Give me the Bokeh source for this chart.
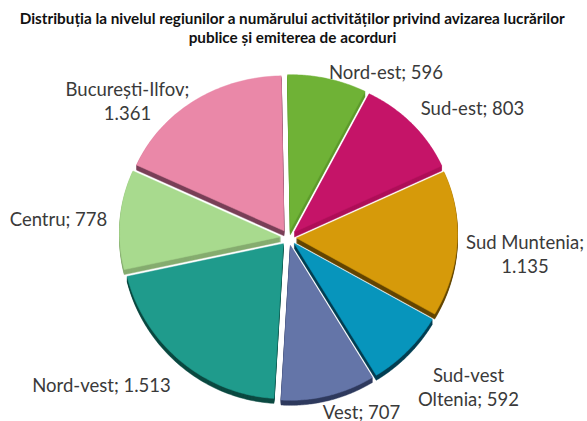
import math
from bokeh.plotting import figure
from bokeh.models import Range1d
from bokeh.core.properties import value
from bokeh.embed import file_html
from bokeh.resources import INLINE

regions = ["Nord-est", "Sud-est", "Sud Muntenia", "Sud-vest Oltenia", "Vest", "Nord-vest", "Centru", "București-Ilfov"]
values = [596, 803, 1135, 592, 707, 1513, 778, 1361]
colors = ["#6FB236", "#C51468", "#D69A0A", "#0795BC", "#6475A8", "#1F9B8C", "#A8DA8E", "#EA88A8"]
sides = ["#5E9A2C", "#AE0F58", "#644600", "#033F52", "#2F3A5E", "#0C4A42", "#86AD70", "#7A4058"]
labels = [["Nord-est; 596"], ["Sud-est; 803"], ["Sud Muntenia;", "1.135"], ["Sud-vest", "Oltenia; 592"],
          ["Vest; 707"], ["Nord-vest; 1.513"], ["Centru; 778"], ["București-Ilfov;", "1.361"]]
label_xy = [(385.5, 71), (472, 107), (524.5, 241), (468, 374), (361, 411), (101, 384), (58, 218), (127, 88)]
title = ["Distribuția la nivelul regiunilor a numărului activităților privind avizarea lucrărilor",
         "publice și emiterea de acorduri"]

CX, CY, RX, RY, EXPLODE, DEPTH, START, EGG = 288, 237, 161, 155, 8, 5, math.radians(-1.0), 0.03
W, H = 587, 421
p = figure(width=W, height=H, output_backend="svg", toolbar_location=None,
           x_range=Range1d(0, W), y_range=Range1d(H, 0), min_border=0)
p.axis.visible = False
p.grid.visible = False
p.outline_line_color = None
p.background_fill_color = "white"
p.border_fill_color = "white"

total = sum(values)
tops_x, tops_y, cum = [], [], 0
for v in values:
    a0 = START + 2 * math.pi * cum / total
    a1 = START + 2 * math.pi * (cum + v) / total
    mid = (a0 + a1) / 2
    cum += v
    ox = CX + EXPLODE * math.sin(mid)
    oy = CY - EXPLODE * math.cos(mid)
    n = 60
    xs, ys = [ox], [oy]
    for i in range(n + 1):
        a = a0 + (a1 - a0) * i / n
        xs.append(ox + RX * math.sin(a))
        ys.append(oy - RY * (math.cos(a) + EGG * math.sin(a) ** 2))
    tops_x.append(xs)
    tops_y.append(ys)

for d in range(DEPTH, 0, -1):
    p.patches(tops_x, [[y + d for y in ys] for ys in tops_y], fill_color=sides, line_color=sides, line_width=0.5)
p.patches(tops_x, tops_y, fill_color=colors, line_color=colors, line_width=0.5)

LH = 24
for lines, (x, y) in zip(labels, label_xy):
    for i, t in enumerate(lines):
        p.text([x], [y + i * LH], text=[t], text_font=value("Lato"), text_font_size="18.5px",
               text_align="center", text_baseline="middle", text_color="#3A3A3A")
for i, t in enumerate(title):
    p.text([292], [17 + i * 19.5], text=[t], text_font=value("Lato"), text_font_size="15.3px",
           text_font_style="bold", text_align="center", text_baseline="middle", text_color="#111111")

open("out.html", "w").write(file_html(p, INLINE))
